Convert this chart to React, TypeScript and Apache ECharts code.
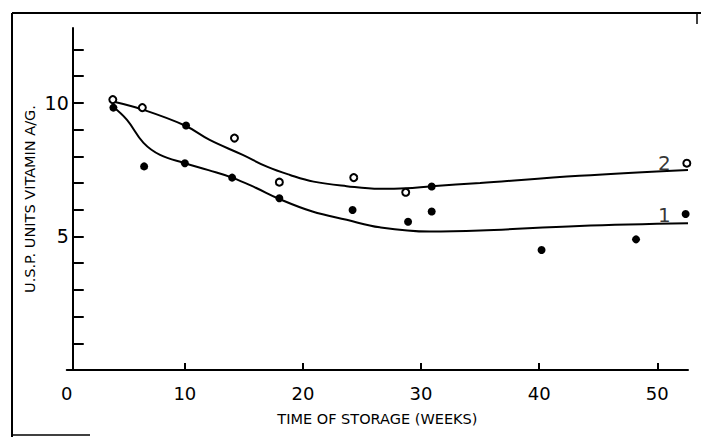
import React, { useEffect, useRef } from "react";
import * as echarts from "echarts";

// Time of storage (weeks) vs U.S.P. units vitamin A/g.
const openPoints: [number, number][] = [
  [3.9, 10.12], [6.4, 9.82], [14.2, 8.68], [18.0, 7.03], [24.3, 7.2], [28.7, 6.65], [52.5, 7.74],
];
const filledPoints: [number, number][] = [
  [3.95, 9.82], [6.55, 7.62], [10.0, 7.74], [10.1, 9.15], [14.0, 7.2], [18.0, 6.43],
  [24.2, 5.99], [28.9, 5.55], [30.9, 6.87], [30.9, 5.93], [40.2, 4.49], [48.2, 4.89], [52.4, 5.84],
];
const curve2: [number, number][] = [
  [3.9, 10.05], [6.4, 9.75], [10, 9.15], [12.1, 8.61], [14.9, 8.05], [17, 7.6], [18.9, 7.3],
  [20.9, 7.05], [23.7, 6.88], [26.5, 6.78], [28.7, 6.8], [30.9, 6.88], [35, 7.0], [43.4, 7.27], [52.6, 7.49],
];
const curve1: [number, number][] = [
  [3.9, 9.86], [5.1, 9.36], [6.5, 8.5], [7.9, 8.05], [10, 7.74], [12, 7.48], [14, 7.2], [16, 6.82],
  [18, 6.4], [20.8, 5.93], [23.7, 5.62], [26.5, 5.34], [30.7, 5.18], [35, 5.22], [43.4, 5.39], [52.6, 5.49],
];
const curveLabels: { name: string; value: [number, number] }[] = [
  { name: "2", value: [50.6, 7.75] },
  { name: "1", value: [50.6, 5.8] },
];
const xLabelValues = [0, 10, 20, 30, 40, 50];
const xTickValues = [10, 20, 30, 40, 50];
const yTickValues = [1, 2, 3, 4, 5, 6, 7, 8, 9, 10, 11, 12];
const yLabelValues = [5, 10];

const FONT = "DejaVu Sans";

export default function App() {
  const ref = useRef<HTMLDivElement>(null);
  useEffect(() => {
    document.body.style.margin = "0";
    const chart = echarts.init(ref.current!, null, { renderer: "svg" });
    const lineStyleCurve = { color: "#000", width: 2 };
    chart.setOption({
      animation: false,
      backgroundColor: "#fff",
      grid: { left: 66.75, right: 13, top: 28, bottom: 67 },
      xAxis: {
        type: "value",
        min: 0,
        max: 52.6,
        name: "TIME OF STORAGE (WEEKS)",
        nameLocation: "middle",
        nameGap: 41,
        nameTextStyle: { fontFamily: FONT, fontSize: 14.5, color: "#000" },
        axisLine: { show: true, onZero: false, lineStyle: { color: "#000", width: 2 } },
        axisTick: { show: true, inside: true, length: 7, customValues: xTickValues, lineStyle: { color: "#000", width: 2 } },
        axisLabel: { customValues: xLabelValues, fontFamily: FONT, fontSize: 18, color: "#000", margin: 14 },
        splitLine: { show: false },
      },
      yAxis: {
        type: "value",
        min: 0,
        max: 12.8,
        offset: -6,
        name: "U.S.P. UNITS VITAMIN A/G.",
        nameLocation: "middle",
        nameGap: 35,
        nameMoveOverlap: false,
        nameRotate: 90,
        nameTextStyle: { fontFamily: FONT, fontSize: 14.5, color: "#000" },
        axisLine: { show: true, onZero: false, lineStyle: { color: "#000", width: 2 } },
        axisTick: { show: true, inside: true, length: 11, customValues: yTickValues, lineStyle: { color: "#000", width: 2 } },
        axisLabel: { customValues: yLabelValues, fontFamily: FONT, fontSize: 19, color: "#000", margin: 4 },
        splitLine: { show: false },
      },
      graphic: [
        { type: "line", shape: { x1: 12, y1: 13, x2: 701, y2: 13 }, style: { stroke: "#000", lineWidth: 2 } },
        { type: "line", shape: { x1: 12, y1: 13, x2: 12, y2: 437 }, style: { stroke: "#000", lineWidth: 2 } },
        { type: "line", shape: { x1: 12, y1: 435, x2: 90, y2: 435 }, style: { stroke: "#000", lineWidth: 1.5 } },
        { type: "line", shape: { x1: 697, y1: 13, x2: 697, y2: 24 }, style: { stroke: "#000", lineWidth: 1.5 } },
      ],
      series: [
        { type: "line", data: curve2, smooth: 0.4, showSymbol: false, lineStyle: lineStyleCurve, silent: true },
        { type: "line", data: curve1, smooth: 0.4, showSymbol: false, lineStyle: lineStyleCurve, silent: true },
        {
          type: "scatter",
          data: openPoints,
          symbol: "circle",
          symbolSize: 7,
          itemStyle: { color: "#fff", borderColor: "#000", borderWidth: 2, opacity: 1 },
          z: 5,
        },
        {
          type: "scatter",
          data: filledPoints,
          symbol: "circle",
          symbolSize: 8,
          itemStyle: { color: "#000", opacity: 1 },
          z: 6,
        },
        {
          type: "scatter",
          data: curveLabels,
          symbolSize: 0,
          label: {
            show: true,
            formatter: "{b}",
            position: "inside",
            fontFamily: FONT,
            fontSize: 20,
            color: "#000",
          },
          z: 7,
        },
      ],
    });
    return () => chart.dispose();
  }, []);
  return <div ref={ref} style={{ width: 701, height: 437 }} />;
}
